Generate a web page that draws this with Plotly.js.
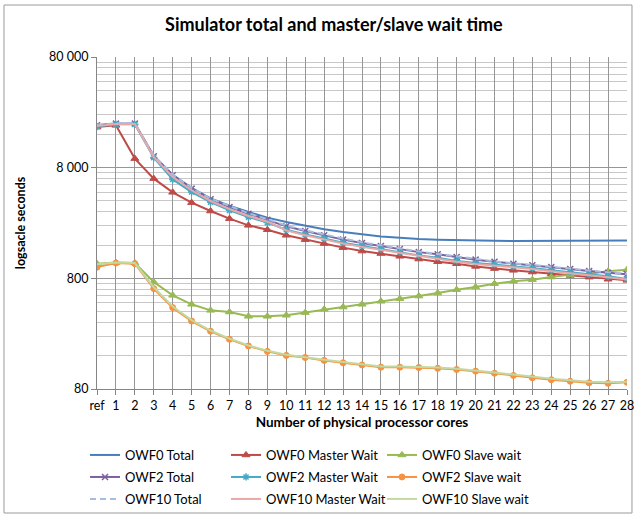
<!DOCTYPE html>
<html>
<head>
<meta charset="utf-8">
<script src="https://cdn.plot.ly/plotly-3.0.1.min.js"></script>
<style>html,body{margin:0;padding:0;background:#fff;}#chart{width:636px;height:517px;}</style>
</head>
<body>
<div id="chart"></div>
<script>
var categories = ['ref','1','2','3','4','5','6','7','8','9','10','11','12','13','14','15','16','17','18','19','20','21','22','23','24','25','26','27','28'];

var owf0Total   = [19300, 20000, 20000, 10200, 6900, 5250, 4220, 3620, 3180, 2830, 2580, 2375, 2220, 2095, 2000, 1915, 1865, 1810, 1790, 1770, 1760, 1745, 1740, 1740, 1740, 1740, 1745, 1760, 1760];
var owf0Master  = [18600, 19300, 9660, 6370, 4790, 3865, 3245, 2770, 2410, 2200, 1960, 1790, 1650, 1515, 1410, 1340, 1265, 1195, 1130, 1085, 1025, 980, 945, 912, 880, 850, 820, 785, 767];
var owf0Slave   = [1085, 1110, 1100, 740, 562, 466, 411, 397, 363, 363, 371, 392, 420, 440, 466, 496, 524, 553, 589, 632, 667, 716, 752, 778, 822, 864, 880, 926, 958];
var owf2Total   = [19300, 20000, 20000, 10130, 6820, 5170, 4140, 3530, 3070, 2710, 2360, 2140, 1960, 1790, 1670, 1570, 1470, 1380, 1320, 1245, 1180, 1130, 1085, 1050, 1010, 970, 930, 900, 870];
var owf2Master  = [18800, 19700, 19700, 9860, 6270, 4820, 3910, 3290, 2860, 2550, 2200, 1990, 1830, 1680, 1570, 1470, 1380, 1290, 1230, 1150, 1100, 1065, 1025, 990, 945, 912, 870, 834, 790];
var owf2Slave   = [1010, 1100, 1085, 646, 435, 329, 266, 225, 196, 175, 161, 154, 145, 138, 132, 126, 126, 125, 123, 120, 116, 111, 106, 101, 97, 94, 91, 90, 92];
var owf10Total  = [19500, 20200, 20200, 10300, 6950, 5250, 4200, 3580, 3100, 2740, 2400, 2170, 1990, 1820, 1690, 1590, 1490, 1400, 1330, 1260, 1195, 1140, 1095, 1060, 1020, 980, 940, 905, 875];
var owf10Master = [19000, 19800, 19800, 9950, 6600, 5000, 4000, 3380, 2930, 2600, 2170, 1960, 1800, 1650, 1540, 1445, 1355, 1270, 1205, 1130, 1080, 1045, 1005, 970, 928, 895, 855, 820, 780];
var owf10Slave  = [1070, 1110, 1100, 665, 445, 335, 270, 228, 198, 177, 163, 156, 147, 140, 134, 128, 128, 127, 125, 122, 118, 113, 108, 103, 99, 96, 93, 92, 93];

var yTickVals = [80, 800, 8000, 80000];
var yTickText = ['80', '800', '8 000', '80 000'];

var FONT = 'Lato, "Open Sans", sans-serif';

// legend slot positions (paper coords): columns and rows
var legCols = [-0.0226, 0.2434, 0.5377];
var legRows = [-0.1988, -0.2651, -0.3313];

var legendIdx = 0;
function nextLegend() {
  legendIdx += 1;
  return legendIdx === 1 ? 'legend' : 'legend' + legendIdx;
}

function tr(name, y, color, opts) {
  var t = {
    type: 'scatter', mode: opts.symbol ? 'lines+markers' : 'lines',
    x: categories, y: y, name: name,
    line: {color: color, width: 2, dash: opts.dash || 'solid'},
    legend: nextLegend()
  };
  if (opts.symbol) {
    t.marker = {symbol: opts.symbol, size: opts.size || 6, color: color,
                line: {color: color, width: opts.mlw || 1}};
  }
  return t;
}

var data = [
  tr('OWF0 Total', owf0Total, '#4a7ebb', {}),
  tr('OWF0 Master Wait', owf0Master, '#be4b48', {symbol: 'triangle-up', size: 7}),
  tr('OWF0 Slave wait', owf0Slave, '#98b954', {symbol: 'triangle-up', size: 7}),
  tr('OWF2 Total', owf2Total, '#7d60a0', {symbol: 'x-thin-open', size: 6, mlw: 1.5}),
  tr('OWF2 Master Wait', owf2Master, '#46aac5', {symbol: 'asterisk-open', size: 6, mlw: 1.5}),
  tr('OWF2 Slave wait', owf2Slave, '#f69240', {symbol: 'circle', size: 6}),
  tr('OWF10 Total', owf10Total, '#a7bde0', {dash: '6px,4px'}),
  tr('OWF10 Master Wait', owf10Master, '#e6a9a8', {}),
  tr('OWF10 Slave wait', owf10Slave, '#c3d9a0', {})
];

var minorVals = [];
[80, 800, 8000].forEach(function(b){ for (var k = 2; k <= 9; k++) minorVals.push(b * k); });

var layout = {
  width: 636, height: 517,
  margin: {l: 97, r: 9, t: 57, b: 128, autoexpand: false},
  paper_bgcolor: '#fff', plot_bgcolor: '#fff',
  font: {family: FONT, size: 12, color: '#000'},
  title: {text: '<b>Simulator total and master/slave wait time</b>', x: 0.525, xanchor: 'center',
          xref: 'container', y: 0.953, yanchor: 'middle', yref: 'container',
          font: {family: FONT, size: 18, color: '#000'}},
  xaxis: {type: 'category', categoryorder: 'array', categoryarray: categories,
          range: [0, 28], showgrid: true, gridcolor: '#969696', gridwidth: 1,
          showline: true, linecolor: '#868686', linewidth: 1,
          ticks: 'outside', ticklen: 5, tickcolor: '#868686', tickangle: 0,
          tickfont: {family: FONT, size: 12.5, color: '#000'}, zeroline: false,
          title: {text: '<b>Number of physical processor cores</b>', standoff: 5,
                  font: {family: FONT, size: 13.5, color: '#000'}}},
  yaxis: {type: 'log', range: [Math.log10(80), Math.log10(80000)],
          tickmode: 'array', tickvals: yTickVals, ticktext: yTickText,
          showgrid: true, gridcolor: '#969696', gridwidth: 1,
          minor: {tickmode: 'array', tickvals: minorVals, showgrid: true, gridcolor: '#c8c8c8', gridwidth: 1, ticks: ''},
          showline: true, linecolor: '#868686', linewidth: 1,
          ticks: 'outside', ticklen: 5, tickcolor: '#868686',
          tickfont: {family: FONT, size: 12.5, color: '#000'}, zeroline: false,
          title: {text: '<b>logsacle seconds</b>', standoff: 20,
                  font: {family: FONT, size: 12.5, color: '#000'}}},
  shapes: [{type: 'rect', xref: 'paper', yref: 'paper', x0: -0.1755, x1: 1.0094, y0: -0.3735, y1: 1.1566,
            line: {color: '#9a9a9a', width: 1}, fillcolor: 'rgba(0,0,0,0)', layer: 'below'}],
  showlegend: true
};

for (var i = 0; i < 9; i++) {
  var id = i === 0 ? 'legend' : 'legend' + (i + 1);
  layout[id] = {orientation: 'v', x: legCols[i % 3], xanchor: 'left', y: legRows[Math.floor(i / 3)], yanchor: 'middle',
                bgcolor: 'rgba(0,0,0,0)', borderwidth: 0,
                font: {family: FONT, size: 13, color: '#000'}};
}

Plotly.newPlot('chart', data, layout, {displayModeBar: false, staticPlot: true});
</script>
</body>
</html>
